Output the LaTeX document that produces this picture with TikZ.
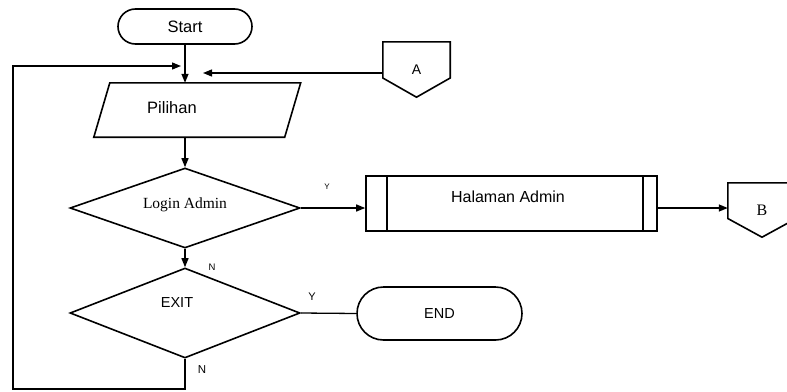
\documentclass[tikz,border=0pt]{standalone}
\usepackage{fontspec}
\setmainfont{Liberation Sans}
\newfontfamily\tmsfont{Liberation Serif}
\usepackage{tikz}
\usetikzlibrary{calc}
\usetikzlibrary{shapes.geometric,shapes.misc}
\usetikzlibrary{arrows.meta}
\newcommand{\fsz}[1]{\fontsize{#1}{#1}\selectfont}
\newcommand{\offpage}[1]{ \draw[shapeline] (#1.north west) -- (#1.north east) -- ([yshift=-8.5pt]#1.east) -- (#1.south) -- ([yshift=-8.5pt]#1.west) -- cycle;}
\tikzset{
  shapeline/.style={line width=1.6pt, line join=miter},
  terminal/.style={rounded rectangle, draw, shapeline, inner sep=0pt},
  decision/.style={diamond, draw, shapeline, inner sep=0pt},
  procbox/.style={rectangle, draw, shapeline, inner sep=0pt},
  hidden/.style={rectangle, inner sep=0pt},
  conn/.style={line width=1.3pt},
  arrow/.style={conn, -{Triangle[length=9pt,width=7pt]}},
  lbl/.style={inner sep=0pt}
}

\begin{document}
\begin{tikzpicture}[x=1pt, y=-1pt]
        \useasboundingbox (0,0) rectangle (787,391);
        % shapes
        \node[terminal, minimum width=134, minimum height=35] (start) at (185,26.5) {\fsz{16.5}Start};
        \node[hidden, minimum width=190.5, minimum height=54] (pil) at (197.25,110) {};
        \draw[shapeline] ([xshift=8pt]pil.north west) -- ([xshift=8pt]pil.north east) -- ([xshift=-8pt]pil.south east) -- ([xshift=-8pt]pil.south west) -- cycle;
        \node[lbl] (piltxt) at (172,108) {\fsz{16.5}Pilihan};
        \node[decision, minimum width=230, minimum height=80] (login) at (185,208) {};
        \node[lbl] (logintxt) at (185,205) {\tmsfont\fsz{15.5}Login Admin};
        \node[decision, minimum width=230, minimum height=90] (exit) at (185,313) {};
        \node[lbl] (exittxt) at (177,303) {\fsz{14.5}EXIT};
        \node[terminal, minimum width=165, minimum height=53] (end) at (439.5,313.5) {\fsz{14.5}END};
        \node[procbox, minimum width=291, minimum height=55] (hal) at (511.5,203.5) {};
        \draw[shapeline] ([xshift=22pt]hal.north west) -- ([xshift=22pt]hal.south west);
        \draw[shapeline] ([xshift=-15pt]hal.north east) -- ([xshift=-15pt]hal.south east);
        \node[lbl] (haltxt) at (508,197) {\fsz{16}Halaman Admin};
        % connectors A and B
        \node[hidden, minimum width=67, minimum height=55] (A) at (416.5,69.5) {\fsz{14}A};
        \offpage{A}
        \node[hidden, minimum width=68, minimum height=54] (B) at (762,210) {\tmsfont\fsz{16}B};
        \offpage{B}

        % arrows
        \coordinate (join1) at (181,66);
        \coordinate (join2) at (203,73);
        \coordinate (loopbl) at (13,389);
        \coordinate (looptl) at (13,66);
        \draw[arrow] (start.south) -- (start.south |- pil.north);
        \draw[arrow] (A.west |- join2) -- (join2);
        \draw[arrow] (start.south |- pil.south) -- (start.south |- login.north);
        \draw[arrow] (login.south) -- (exit.north);
        \draw[arrow] (login.east) -- (login.east -| hal.west);
        \draw[arrow] (login.east -| hal.east) -- (login.east -| B.west);
        \draw[conn] (exit.east) -- (end.west);
        \draw[arrow] (exit.south) |- (loopbl) -- (looptl) -- (join1);

        % labels
        \node[lbl] (ylogin) at (327,187) {\fsz{8}Y};
        \node[lbl] (nlogin) at (212,267) {\fsz{9.5}N};
        \node[lbl] (yexit) at (312,297) {\fsz{11}Y};
        \node[lbl] (nexit) at (202,370) {\fsz{11.5}N};
    \end{tikzpicture}
\end{document}
